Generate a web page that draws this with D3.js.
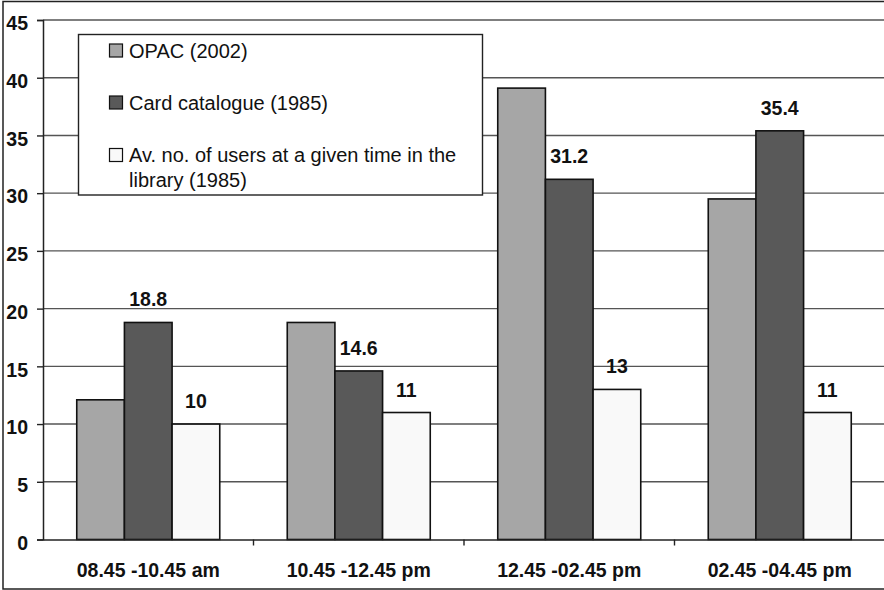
<!DOCTYPE html>
<html>
<head>
<meta charset="utf-8">
<script src="https://cdn.jsdelivr.net/npm/d3@7"></script>
<style>
  html, body { margin: 0; padding: 0; background: #fff; }
  svg { display: block; font-family: "Liberation Sans", Arial, sans-serif; }
</style>
</head>
<body>
<svg id="chart" width="884" height="590"></svg>
<script>
// Time slots on the category axis
const categories = ["08.45 -10.45 am", "10.45 -12.45 pm", "12.45 -02.45 pm", "02.45 -04.45 pm"];

// Series values per time slot
const opac2002 = [12.1, 18.8, 39.1, 29.5];
const cardCatalogue1985 = [18.8, 14.6, 31.2, 35.4];
const avgUsers1985 = [10, 11, 13, 11];

const seriesNames = [
  "OPAC (2002)",
  "Card catalogue (1985)",
  "Av. no. of users at a given time in the library (1985)"
];
const yTicks = [0, 5, 10, 15, 20, 25, 30, 35, 40, 45];

const series = [
  { key: "opac", name: seriesNames[0], values: opac2002, fill: "#a6a6a6", labelled: false },
  { key: "card", name: seriesNames[1], values: cardCatalogue1985, fill: "#595959", labelled: true },
  { key: "users", name: seriesNames[2], values: avgUsers1985, fill: "#f9f9f9", labelled: true }
];

const svg = d3.select("#chart");
const W = 884, H = 590;

// Outer chart frame
svg.append("rect")
  .attr("x", 3).attr("y", 1.5)
  .attr("width", W + 10).attr("height", 587.5)
  .attr("fill", "#fff").attr("stroke", "#222").attr("stroke-width", 1.5);

const plot = { left: 43, right: 885, top: 20, bottom: 539.5 };

const y = d3.scaleLinear().domain([0, 45]).range([plot.bottom, plot.top]);
const x0 = d3.scaleBand().domain(categories).range([plot.left, plot.right]).paddingInner(0).paddingOuter(0);
const groupWidth = 143;
const x1 = d3.scaleBand().domain(series.map(s => s.key)).range([0, groupWidth]);

// Horizontal gridlines
svg.append("g")
  .selectAll("line")
  .data(yTicks.filter(t => t > 0))
  .join("line")
  .attr("x1", plot.left).attr("x2", W)
  .attr("y1", d => y(d)).attr("y2", d => y(d))
  .attr("stroke", "#555").attr("stroke-width", 1.4);

// Bars
const groups = svg.append("g")
  .selectAll("g")
  .data(categories)
  .join("g")
  .attr("transform", d => `translate(${x0(d) + (x0.bandwidth() - groupWidth) / 2},0)`);

groups.selectAll("rect")
  .data((d, i) => series.map(s => ({ s, v: s.values[i] })))
  .join("rect")
  .attr("x", d => x1(d.s.key))
  .attr("y", d => y(d.v))
  .attr("width", x1.bandwidth())
  .attr("height", d => y(0) - y(d.v))
  .attr("fill", d => d.s.fill)
  .attr("stroke", "#111").attr("stroke-width", 1.6);

// Value labels on the card-catalogue and users bars
groups.selectAll("text.val")
  .data((d, i) => series.filter(s => s.labelled).map(s => ({ s, v: s.values[i] })))
  .join("text")
  .attr("class", "val")
  .attr("x", d => x1(d.s.key) + x1.bandwidth() / 2)
  .attr("y", d => y(d.v) - 16)
  .attr("text-anchor", "middle")
  .attr("font-size", 19.5).attr("font-weight", "bold").attr("fill", "#111")
  .text(d => d3.format("~g")(d.v));

// Y axis
const yAxis = svg.append("g")
  .attr("transform", `translate(${plot.left},0)`)
  .call(d3.axisLeft(y).tickValues(yTicks).tickSize(6).tickPadding(9).tickFormat(d3.format("d")));
yAxis.select(".domain").attr("stroke", "#222").attr("stroke-width", 1.5);
yAxis.selectAll(".tick line").attr("stroke", "#222").attr("stroke-width", 1.4);
yAxis.selectAll(".tick text")
  .attr("font-size", 19.5).attr("font-weight", "bold").attr("fill", "#111")
  .attr("font-family", "Liberation Sans, Arial, sans-serif")
  .attr("dy", "0.5em");

// X axis
const xAxis = svg.append("g")
  .attr("transform", `translate(0,${plot.bottom})`)
  .call(d3.axisBottom(x0).tickSize(0).tickPadding(0));
xAxis.select(".domain").attr("stroke", "#222").attr("stroke-width", 1.6);
xAxis.selectAll(".tick text")
  .attr("font-size", 19.5).attr("font-weight", "bold").attr("fill", "#111")
  .attr("font-family", "Liberation Sans, Arial, sans-serif")
  .attr("dy", 0).attr("y", 37.5);

// Category separator ticks
svg.append("g")
  .selectAll("line")
  .data(categories.slice(1))
  .join("line")
  .attr("x1", d => x0(d)).attr("x2", d => x0(d))
  .attr("y1", plot.bottom).attr("y2", plot.bottom + 6)
  .attr("stroke", "#222").attr("stroke-width", 1.4);

// Legend
const legend = svg.append("g");
legend.append("rect")
  .attr("x", 78.5).attr("y", 34.5)
  .attr("width", 404).attr("height", 160.5)
  .attr("fill", "#fff").attr("stroke", "#222").attr("stroke-width", 1.4);

const legendRows = [
  { s: series[0], lines: ["OPAC (2002)"], cy: 50.5 },
  { s: series[1], lines: ["Card catalogue (1985)"], cy: 102.5 },
  { s: series[2], lines: ["Av. no. of users at a given time in the", "library (1985)"], cy: 155 }
];

const item = legend.selectAll("g.item")
  .data(legendRows)
  .join("g")
  .attr("class", "item");

item.append("rect")
  .attr("x", 109.5).attr("y", d => d.cy - 6.5)
  .attr("width", 13).attr("height", 13)
  .attr("fill", d => d.s.fill)
  .attr("stroke", "#111").attr("stroke-width", 1.2);

item.append("text")
  .attr("x", 129)
  .attr("y", d => d.cy + 7)
  .attr("font-size", 20).attr("fill", "#111")
  .selectAll("tspan")
  .data(d => d.lines)
  .join("tspan")
  .attr("x", 129)
  .attr("dy", (d, i) => i === 0 ? 0 : 24.5)
  .text(d => d);
</script>
</body>
</html>
